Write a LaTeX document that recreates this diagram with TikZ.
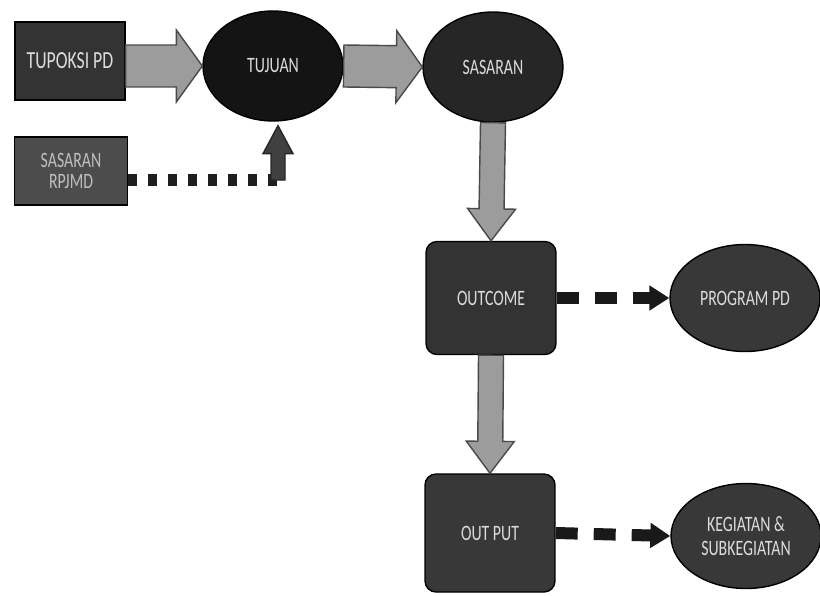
\documentclass[tikz,border=0pt]{standalone}
\usepackage{fontspec}
\newfontfamily\lblfont[FakeStretch=0.72]{Carlito}
\usetikzlibrary{shapes.geometric,arrows.meta,calc}
\definecolor{arrowgray}{HTML}{9C9C9C}
\definecolor{edgegray}{HTML}{4A4A4A}
\definecolor{textgray}{HTML}{DCDCDC}

\tikzset{
  fatarrow/.style n args={3}{draw=edgegray,fill=arrowgray,line width=0.8pt,
    to path={($(\tikztostart)!#1!90:(\tikztotarget)$)
      -- ($($(\tikztotarget)!#3!(\tikztostart)$)!#1!90:(\tikztotarget)$)
      -- ($($(\tikztotarget)!#3!(\tikztostart)$)!#2!90:(\tikztotarget)$)
      -- (\tikztotarget)
      -- ($($(\tikztotarget)!#3!(\tikztostart)$)!#2!-90:(\tikztotarget)$)
      -- ($($(\tikztotarget)!#3!(\tikztostart)$)!#1!-90:(\tikztotarget)$)
      -- ($(\tikztostart)!#1!-90:(\tikztotarget)$) -- cycle}},
  lbl/.style={text=textgray,inner sep=0pt,align=center,
    font=\lblfont\fontsize{12.5}{13.5}\selectfont},
  box/.style={lbl,draw=black,line width=0.8pt,rectangle},
  oval/.style={lbl,draw=black,line width=0.8pt,ellipse},
  dasharrow/.style={line width=0.24cm,color=black!90,dash pattern=on 0.44cm off 0.32cm,
    -{Triangle[length=0.4cm,width=0.48cm]}},
}

\begin{document}
\begin{tikzpicture}[x=0.02cm,y=-0.02cm]
\useasboundingbox (0,0) rectangle (820,595);
\node (tupoksi)  at (70,61)  [box,fill=black!80,minimum width=2.2cm,minimum height=1.56cm,font=\lblfont\fontsize{14}{15}\selectfont] {TUPOKSI PD};
\node (tujuan)   at (273,66) [oval,fill=black!92,minimum width=2.8cm,minimum height=2.2cm] {TUJUAN};
\node (sasaran)  at (493,67) [oval,fill=black!85,minimum width=2.8cm,minimum height=2.2cm] {SASARAN};
\node (rpjmd)    at (71,171) [box,fill=black!70,text=black!25,minimum width=2.26cm,minimum height=1.36cm,font=\lblfont\fontsize{12.5}{11.5}\selectfont] {SASARAN\\RPJMD};
\node (outcome)  at (491,298) [box,fill=black!80,rounded corners=0.22cm,minimum width=2.6cm,minimum height=2.26cm] {OUTCOME};
\node (program)  at (745,298) [oval,fill=black!78,minimum width=3.0cm,minimum height=2.14cm] {PROGRAM PD};
\node (output)   at (490,533) [box,fill=black!78,rounded corners=0.22cm,minimum width=2.6cm,minimum height=2.36cm] {OUT PUT};
\node (kegiatan) at (746,536) [oval,fill=black!78,minimum width=3.0cm,minimum height=2.1cm] {KEGIATAN \&\\SUBKEGIATAN};

\coordinate (rj)   at ($(rpjmd.east)+(0,9)$);
\coordinate (bend) at ($(tujuan.south |- rj)+(5,0)$);
\coordinate (tip)  at ($(tujuan.south)+(5,4)$);

\path [fatarrow={0.42cm}{0.72cm}{0.52cm}] (tupoksi.east |- tujuan.west) to (tujuan.west);
\path [fatarrow={0.42cm}{0.72cm}{0.52cm}] (tujuan.east) to (sasaran.west);
\path [fatarrow={0.25cm}{0.48cm}{0.64cm}] (sasaran.south) to (outcome.north);
\path [fatarrow={0.25cm}{0.48cm}{0.64cm}] (outcome.south) to (output.north);
\draw [line width=0.23cm,color=black!88,dash pattern=on 0.18cm off 0.22cm] (rj) -- (bend);
\path [fatarrow={0.14cm}{0.3cm}{0.56cm},fill=black!75,draw=black!85] (bend) to (tip);
\draw [dasharrow] (outcome.east) -- (program.west);
\draw [dasharrow] (output.east) -- (kegiatan.west);
\end{tikzpicture}
\end{document}
